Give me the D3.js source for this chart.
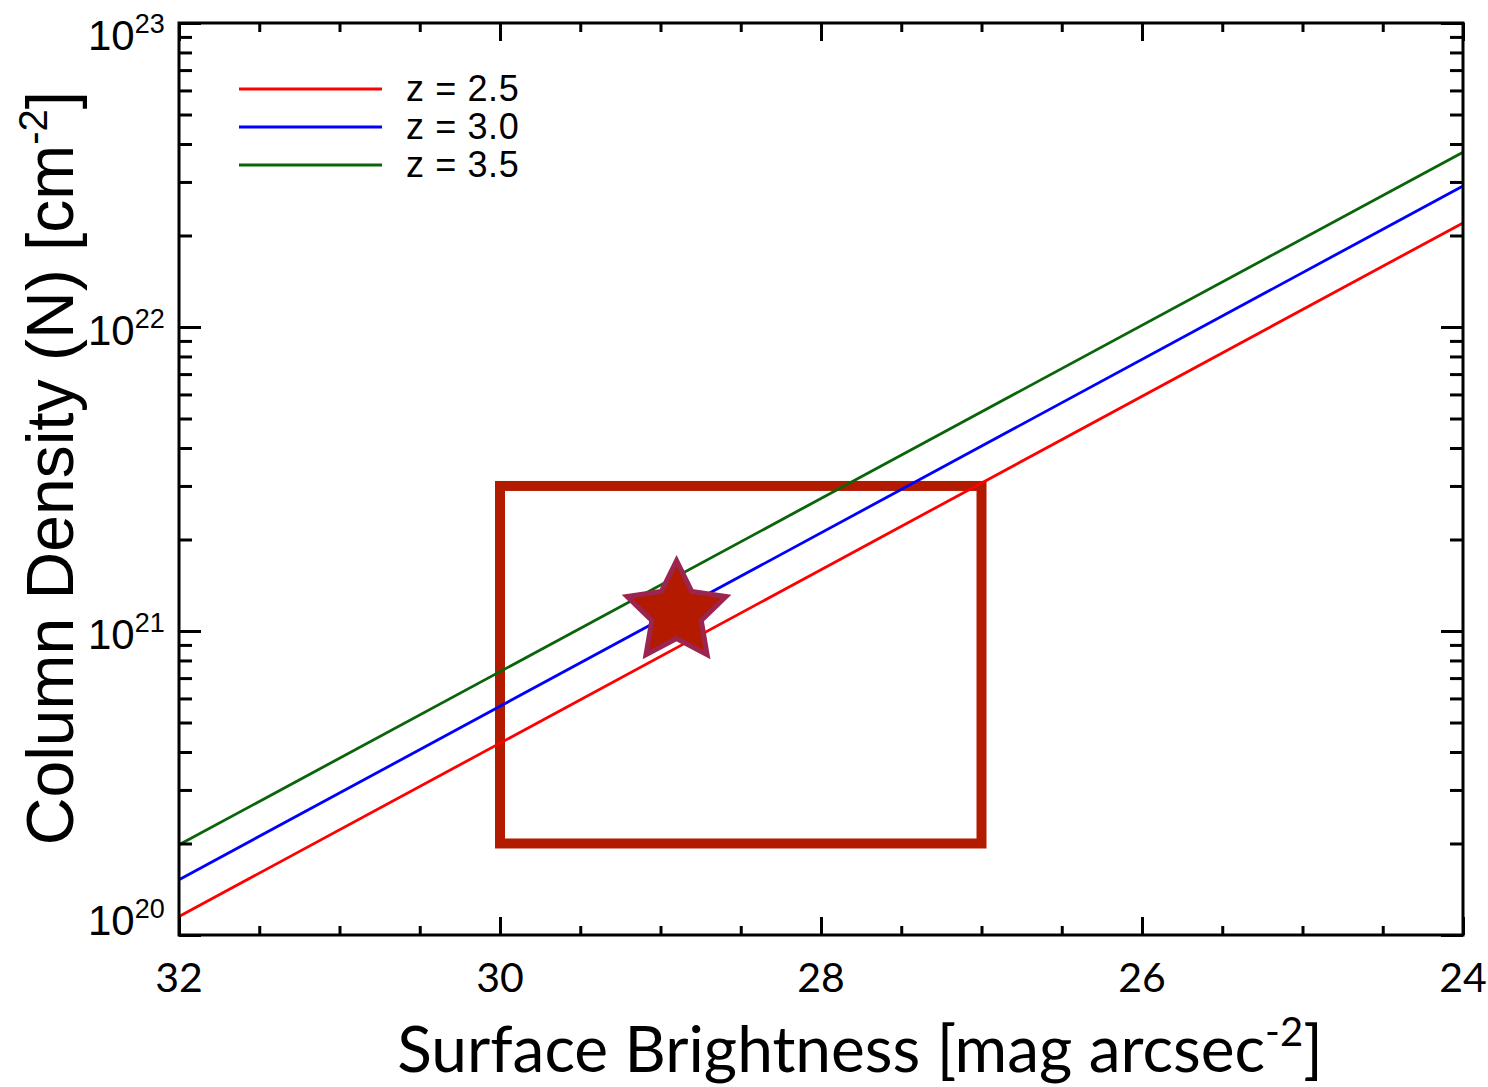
<!DOCTYPE html>
<html>
<head>
<meta charset="utf-8">
<script src="https://cdn.jsdelivr.net/npm/d3@7"></script>
<style>
  body { margin: 0; background: #fff; }
  svg { display: block; }
</style>
</head>
<body>
<div id="chart"></div>
<script>
// values (surface brightness vs column density)
const magEnds = [32, 24];
const redcurve = [1.15e20, 2.2e22];   // z = 2.5
const bluecurve = [1.52e20, 2.91e22]; // z = 3.0
const greencurve = [1.98e20, 3.76e22]; // z = 3.5
const seriesNames = ['z = 2.5', 'z = 3.0', 'z = 3.5'];
const seriesColors = ['#ff0000', '#0000ff', '#0a640a'];
const xTickVals = [32, 30, 28, 26, 24];
const boxMag = [30, 27];
const boxN = [2e20, 3e21];
const starPoint = [28.9, 1.15e21];

const width = 1488, height = 1087;
const plotL = 179, plotR = 1463, plotT = 23, plotB = 935;

const svg = d3.select('#chart').append('svg')
  .attr('width', width).attr('height', height);

const x = d3.scaleLinear().domain([32, 24]).range([plotL, plotR]);
const y = d3.scaleLog().domain([1e20, 1e23]).range([plotB, plotT]);

const series = [redcurve, bluecurve, greencurve];

const line = d3.line()
  .x(d => x(d[0]))
  .y(d => y(d[1]));

const plot = svg.append('g');

// box goes first, curves over it, star on top
plot.append('rect')
  .attr('x', x(boxMag[0]))
  .attr('y', y(boxN[1]))
  .attr('width', x(boxMag[1]) - x(boxMag[0]))
  .attr('height', y(boxN[0]) - y(boxN[1]))
  .attr('fill', 'none')
  .attr('stroke', '#b31b00')
  .attr('stroke-width', 10);

series.forEach((s, i) => {
  plot.append('path')
    .datum(magEnds.map((m, j) => [m, s[j]]))
    .attr('d', line)
    .attr('fill', 'none')
    .attr('stroke', seriesColors[i])
    .attr('stroke-width', 2.8);
});

// star marker, fatter than d3.symbolStar (size = outer radius here)
const fatStar = {
  draw(ctx, r) {
    const ri = r * 0.5;
    for (let k = 0; k < 10; k++) {
      const a = -Math.PI / 2 + k * Math.PI / 5;
      const rr = k % 2 ? ri : r;
      if (k === 0) ctx.moveTo(rr * Math.cos(a), rr * Math.sin(a));
      else ctx.lineTo(rr * Math.cos(a), rr * Math.sin(a));
    }
    ctx.closePath();
  }
};
plot.append('path')
  .attr('transform', `translate(${x(starPoint[0])},${y(starPoint[1])})`)
  .attr('d', d3.symbol(fatStar).size(52)())
  .attr('fill', '#b31a00')
  .attr('stroke', '#9c2450')
  .attr('stroke-width', 5)
  .attr('stroke-linejoin', 'miter');

// axes: ticks drawn inward on all four sides
const xMinor = d3.range(32, 23.9, -0.5);
const yMajor = [1e20, 1e21, 1e22, 1e23];
const yMinor = [];
[1e20, 1e21, 1e22].forEach(d => { for (let k = 2; k <= 9; k++) yMinor.push(d * k); });

const axisStyle = g => {
  g.select('.domain').remove();
  g.selectAll('.tick line').attr('stroke', '#000').attr('stroke-width', 3);
  g.selectAll('.tick text').remove();
};

// bottom + top x ticks
plot.append('g').attr('transform', `translate(0,${plotB})`)
  .call(d3.axisTop(x).tickValues(xMinor).tickSize(9)).call(axisStyle);
plot.append('g').attr('transform', `translate(0,${plotB})`)
  .call(d3.axisTop(x).tickValues(xTickVals).tickSize(18)).call(axisStyle);
plot.append('g').attr('transform', `translate(0,${plotT})`)
  .call(d3.axisBottom(x).tickValues(xMinor).tickSize(9)).call(axisStyle);
plot.append('g').attr('transform', `translate(0,${plotT})`)
  .call(d3.axisBottom(x).tickValues(xTickVals).tickSize(18)).call(axisStyle);

// left + right y ticks
plot.append('g').attr('transform', `translate(${plotL},0)`)
  .call(d3.axisRight(y).tickValues(yMinor).tickSize(13)).call(axisStyle);
plot.append('g').attr('transform', `translate(${plotL},0)`)
  .call(d3.axisRight(y).tickValues(yMajor).tickSize(22)).call(axisStyle);
plot.append('g').attr('transform', `translate(${plotR},0)`)
  .call(d3.axisLeft(y).tickValues(yMinor).tickSize(13)).call(axisStyle);
plot.append('g').attr('transform', `translate(${plotR},0)`)
  .call(d3.axisLeft(y).tickValues(yMajor).tickSize(22)).call(axisStyle);

// frame
plot.append('rect')
  .attr('x', plotL).attr('y', plotT)
  .attr('width', plotR - plotL).attr('height', plotB - plotT)
  .attr('fill', 'none').attr('stroke', '#000').attr('stroke-width', 3);

// x tick labels
svg.append('g').selectAll('text')
  .data(xTickVals)
  .join('text')
  .attr('x', d => x(d))
  .attr('y', 992)
  .attr('text-anchor', 'middle')
  .attr('font-family', 'Lato, sans-serif')
  .attr('font-size', 41)
  .attr('fill', '#000')
  .text(d => d);

// y tick labels (the end labels are kept inside the frame height, like IDL does)
const yl = svg.append('g').selectAll('text')
  .data(yMajor)
  .join('text')
  .attr('x', 88)
  .attr('y', d => Math.max(plotT + 27, Math.min(plotB, y(d) + 18)))
  .attr('font-family', '"Liberation Sans", Arial, sans-serif')
  .attr('font-size', 42)
  .attr('fill', '#000')
  .text('10');
yl.append('tspan')
  .attr('dy', -17)
  .attr('font-size', 27)
  .text(d => Math.round(Math.log10(d)));

// legend
const leg = svg.append('g');
seriesNames.forEach((name, i) => {
  const ly = 89 + i * 38;
  leg.append('line')
    .attr('x1', 239).attr('x2', 382)
    .attr('y1', ly).attr('y2', ly)
    .attr('stroke', seriesColors[i]).attr('stroke-width', 2.8);
  leg.append('text')
    .attr('x', 406).attr('y', ly + 12)
    .attr('font-family', '"Liberation Sans", Arial, sans-serif')
    .attr('font-size', 36)
    .attr('letter-spacing', 0.6)
    .attr('fill', '#000')
    .text(name);
});

// axis titles
const xt = svg.append('text')
  .attr('x', 860).attr('y', 1072)
  .attr('text-anchor', 'middle')
  .attr('font-family', 'Lato, sans-serif')
  .attr('font-size', 64)
  .attr('fill', '#000');
xt.append('tspan').text('Surface Brightness [mag arcsec');
xt.append('tspan').attr('dy', -26).attr('font-size', 40).text('-2');
xt.append('tspan').attr('dy', 26).text(']');

const yt = svg.append('text')
  .attr('transform', 'translate(73,468) rotate(-90)')
  .attr('text-anchor', 'middle')
  .attr('font-family', '"Liberation Sans", Arial, sans-serif')
  .attr('font-size', 66)
  .attr('fill', '#000');
yt.append('tspan').text('Column Density (N) [cm');
yt.append('tspan').attr('dy', -26).attr('font-size', 40).text('-2');
yt.append('tspan').attr('dy', 26).text(']');
</script>
</body>
</html>
